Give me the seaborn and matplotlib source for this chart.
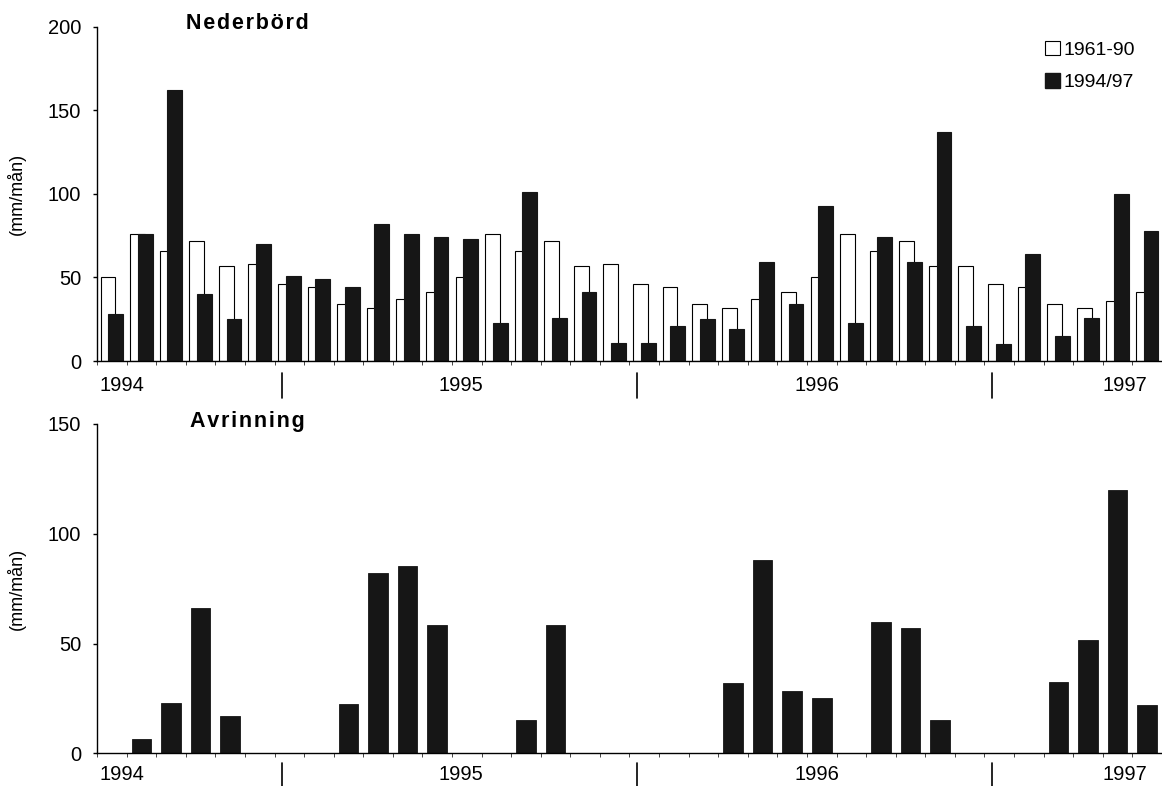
import numpy as np
import matplotlib.pyplot as plt
from matplotlib.patches import Patch
import seaborn as sns

# DATA  (monthly, Jul 1994 - Jun 1997)
months = np.arange(36)
normal_1961_90 = [50, 76, 66, 72, 57, 58,
                  46, 44, 34, 32, 37, 41, 50, 76, 66, 72, 57, 58,
                  46, 44, 34, 32, 37, 41, 50, 76, 66, 72, 57, 57,
                  46, 44, 34, 32, 36, 41]
precip_1994_97 = [28, 76, 162, 40, 25, 70,
                  51, 49, 44, 82, 76, 74, 73, 23, 101, 26, 41, 11,
                  11, 21, 25, 19, 59, 34, 93, 23, 74, 59, 137, 21,
                  10, 64, 15, 26, 100, 78]
runoff = [0, 6.4, 23, 66, 17, 0,
          0, 0, 22.5, 82, 85.5, 58.5, 0, 0, 15, 58.5, 0, 0,
          0, 0, 0, 32, 88, 28.5, 25, 0, 60, 57, 15, 0,
          0, 0, 32.5, 51.5, 120, 22]
year_labels = ["1994", "1995", "1996", "1997"]
year_label_x = [0.35, 11.8, 23.85, 34.25]
year_breaks = [6, 18, 30]

# SETTINGS
sns.set_theme(style="white")
plt.rcParams['font.family'] = ['Liberation Sans', 'DejaVu Sans']
plt.rcParams['text.color'] = 'black'
plt.rcParams['axes.labelcolor'] = 'black'
FS = 14.5
BLACK = "#161616"
HAIR = "\u200a"

fig = plt.figure(figsize=(11.62, 7.86), dpi=100)
ax1 = fig.add_axes([97 / 1162, 1 - 361 / 786, 1065 / 1162, 334.3 / 786])
ax2 = fig.add_axes([97 / 1162, 1 - 753.3 / 786, 1065 / 1162, 329.3 / 786])

# top panel: precipitation, normal vs observed (overlapping bars)
sns.barplot(x=months - 0.13, y=normal_1961_90, native_scale=True, width=0.5,
            color="white", edgecolor="black", linewidth=0.8, saturation=1,
            errorbar=None, ax=ax1)
sns.barplot(x=months + 0.13, y=precip_1994_97, native_scale=True, width=0.5,
            color=BLACK, edgecolor=BLACK, linewidth=0.8, saturation=1,
            errorbar=None, ax=ax1)

# bottom panel: runoff
sns.barplot(x=months, y=runoff, native_scale=True, width=0.66,
            color=BLACK, edgecolor=BLACK, linewidth=0.6, saturation=1,
            errorbar=None, ax=ax2)


def style_axis(ax, ymax, title, title_y, label_y, sep_y):
    ax.set_xlim(-0.5, 35.5)
    ax.set_ylim(0, ymax)
    ax.set_yticks(np.arange(0, ymax + 1, 50))
    ax.set_xticks(np.arange(-0.5, 36, 1))
    ax.set_xticklabels([])
    ax.set_xlabel("")
    ax.set_ylabel("(mm/mån)", fontsize=13, color="black")
    ax.tick_params(axis="y", direction="out", length=3, width=1, labelsize=FS,
                   left=True, pad=8.5, color="black", labelcolor="black")
    ax.tick_params(axis="x", direction="out", length=3, width=0.7, bottom=True,
                   color="#444444")
    for side in ["top", "right"]:
        ax.spines[side].set_visible(False)
    for side in ["left", "bottom"]:
        ax.spines[side].set_color("black")
        ax.spines[side].set_linewidth(1)
    ax.grid(False)
    ax.text(0.141, title_y, HAIR.join(title), transform=ax.transAxes,
            ha="center", va="center", fontsize=15.5, fontweight="bold",
            color="black")
    tr = ax.get_xaxis_transform()
    for lab, xpos in zip(year_labels, year_label_x):
        ax.text(xpos, label_y, lab, transform=tr, ha="center", va="center",
                fontsize=FS, color="black")
    for b in year_breaks:
        ax.plot([b - 0.25, b - 0.25], sep_y, transform=tr, color="black",
                lw=1.2, clip_on=False)


style_axis(ax1, 200, "Nederbörd", 1.011, -0.072, [-0.036, -0.111])
style_axis(ax2, 150, "Avrinning", 1.009, -0.065, [-0.030, -0.100])
ax1.yaxis.set_label_coords(-0.0665, 0.5)
ax2.yaxis.set_label_coords(-0.0665, 0.5)

handles = [Patch(facecolor="white", edgecolor="black", linewidth=0.8),
           Patch(facecolor=BLACK, edgecolor=BLACK)]
fig.legend(handles, ["1961-90", "1994/97"], loc="upper right",
           bbox_to_anchor=(1135 / 1162, 1 - 41 / 786), frameon=False,
           fontsize=14, handlelength=0.75, handleheight=0.75, handletextpad=0.2,
           labelspacing=0.75, borderpad=0, borderaxespad=0, labelcolor="black")

fig.savefig("out.png", dpi=100)
